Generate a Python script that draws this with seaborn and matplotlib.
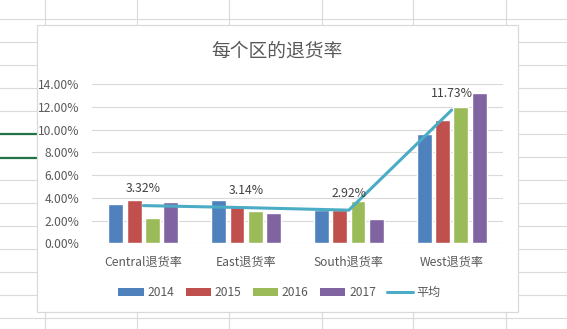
import numpy as np
import pandas as pd
import matplotlib
matplotlib.use('Agg')
import matplotlib.pyplot as plt
import seaborn as sns
from matplotlib.patches import Rectangle, Patch
from matplotlib.lines import Line2D
from matplotlib.ticker import PercentFormatter, MultipleLocator

# ---- data ----
regions = ['Central退货率', 'East退货率', 'South退货率', 'West退货率']
years = ['2014', '2015', '2016', '2017']
rate_2014 = [0.0348, 0.0383, 0.0289, 0.0959]
rate_2015 = [0.0383, 0.0330, 0.0289, 0.1090]
rate_2016 = [0.0224, 0.0286, 0.0375, 0.1200]
rate_2017 = [0.0365, 0.0268, 0.0215, 0.1320]
average = [0.0332, 0.0314, 0.0292, 0.1173]
avg_label = '平均'
title = '每个区的退货率'

bar_colors = ['#4F81BD', '#C0504D', '#9BBB59', '#8064A2']
line_color = '#4BACC6'
text_color = '#595959'

sns.set_style('white')
plt.rcParams['font.family'] = ['Noto Sans CJK SC', 'DejaVu Sans']

W, H = 567, 329
fig = plt.figure(figsize=(W / 100, H / 100), dpi=100)
fig.patch.set_facecolor('white')

# ---- spreadsheet background (decoration) ----
bg = fig.add_axes([0, 0, 1, 1], zorder=0)
bg.set_xlim(0, W)
bg.set_ylim(H, 0)
bg.axis('off')
grid_c = '#DADADA'
for gx in [45.2, 137.4, 229.3, 321.5, 413.4, 505.6]:
    bg.axvline(gx, color=grid_c, lw=0.8)
for gy in np.arange(19.3, H, 23.0):
    bg.axhline(gy, color=grid_c, lw=0.8)
for gy in [134.2, 157.5]:
    bg.plot([0, 37], [gy, gy], color='#217346', lw=1.6, solid_capstyle='butt')
bg.add_patch(Rectangle((37.3, 24.5), 517.5 - 37.3, 312.3 - 24.5,
                       facecolor='white', edgecolor='#D9D9D9', lw=0.9, zorder=5))

# ---- main chart ----
ax = fig.add_axes([92 / W, (H - 243.3) / H, (503 - 92) / W, (243.3 - 84.3) / H], zorder=2)
ax.set_facecolor('none')

df = pd.DataFrame({
    'region': regions * 4,
    'year': np.repeat(years, len(regions)),
    'rate': rate_2014 + rate_2015 + rate_2016 + rate_2017,
})
sns.barplot(data=df, x='region', y='rate', hue='year', palette=bar_colors,
            width=0.713, gap=0.19, saturation=1, legend=False, ax=ax)
sns.pointplot(x=regions, y=average, color=line_color, marker='', linewidth=2.2,
              errorbar=None, ax=ax)

for i, v in enumerate(average):
    ax.annotate(f'{v * 100:.2f}%', (i, v), xytext=(0, 12.2), textcoords='offset points',
                ha='center', va='center', fontsize=8.8, color='#404040')

ax.set_ylim(0, 0.14)
ax.yaxis.set_major_locator(MultipleLocator(0.02))
ax.yaxis.set_major_formatter(PercentFormatter(xmax=1, decimals=2))
ax.set_xlim(-0.5, 3.5)
ax.yaxis.grid(True, color='#D9D9D9', lw=0.8)
ax.set_axisbelow(True)
for s in ax.spines.values():
    s.set_visible(False)
ax.set_xlabel('')
ax.set_ylabel('')
ax.tick_params(axis='both', length=0, labelsize=8.7, labelcolor=text_color)
ax.tick_params(axis='y', pad=9)
ax.tick_params(axis='x', pad=9)

fig.text(277 / W, 1 - 51.7 / H, title, ha='center', va='center',
         fontsize=13.5, color=text_color)

handles = [Patch(facecolor=c, edgecolor='none') for c in bar_colors]
handles.append(Line2D([], [], color=line_color, lw=2.2))
labels = years + [avg_label]
fig.legend(handles, labels, loc='center', bbox_to_anchor=(279.5 / W, 1 - 292.7 / H),
           ncol=5, frameon=False, fontsize=8.7, handlelength=2.1, handleheight=0.56,
           handletextpad=0.3, columnspacing=0.95, labelcolor=text_color)

fig.savefig('out.png', dpi=100)
